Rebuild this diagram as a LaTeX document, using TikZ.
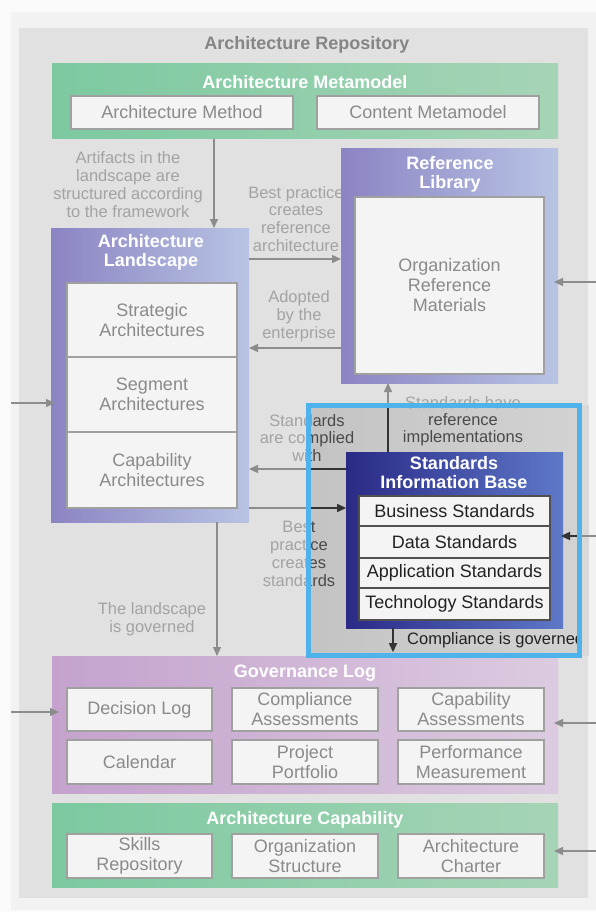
\documentclass[tikz,border=0pt]{standalone}
\usepackage{fontspec}
\setmainfont{Liberation Sans}
\usetikzlibrary{arrows.meta}
\definecolor{pagebg}{HTML}{F2F2F2}
\definecolor{repo}{HTML}{E1E1E1}
\definecolor{repotitle}{HTML}{858585}
\definecolor{lblgray}{HTML}{A3A3A3}
\definecolor{lbldark}{HTML}{4A4A4A}
\definecolor{itemfill}{HTML}{F4F4F4}
\definecolor{itemborder}{HTML}{A0A0A0}
\definecolor{itemtext}{HTML}{8A8A8A}
\definecolor{greenL}{HTML}{7CC9A0}
\definecolor{greenR}{HTML}{A6D4B6}
\definecolor{purpL}{HTML}{8B84C3}
\definecolor{purpR}{HTML}{B8C4E4}
\definecolor{lilacL}{HTML}{C4A2CD}
\definecolor{lilacR}{HTML}{DCCBE0}
\definecolor{sibL}{HTML}{2A2A86}
\definecolor{sibR}{HTML}{5E78C8}
\definecolor{sibborder}{HTML}{505050}
\definecolor{sibtext}{HTML}{222222}
\definecolor{hlblue}{HTML}{4DB3EA}
\definecolor{panelL}{HTML}{C3C3C3}
\definecolor{panelR}{HTML}{D3D3D3}
\definecolor{sidepanel}{HTML}{D9D9D9}
\definecolor{arrgray}{HTML}{8C8C8C}
\definecolor{arrdark}{HTML}{333333}
\newcommand\bx[7]{\node[#6, minimum width={#4pt-#2pt}, minimum height={#5pt-#3pt}] (#1) at ({(#2+#4)/2},{(#3+#5)/2}) {#7};}
\newcommand\framelabels[2]{%
  \node[lbl, text=#1, font=\fontsize{16.5}{17}\selectfont] (lhave#2) at (463,421) {Standards have\\reference\\implementations};
  \node[lbl, text=#1] (lcomp#2) at (307,438) {Standards\\are complied\\with};
  \node[lbl, text=#1] (lbps#2) at (299,554) {Best\\practice\\creates\\standards};
}
\newcommand\framearrows[1]{%
  \draw[arr, draw=#1, -{Triangle[length=9pt,width=8pt,fill=#1]}] (sib.north -| x388) -- (ref.south -| x388);
  \draw[arr, draw=#1, -{Triangle[length=9pt,width=8pt,fill=#1]}] (sib.west |- y469) -- (land.east |- y469);
  \draw[arr, draw=#1, -{Triangle[length=9pt,width=8pt,fill=#1]}] (land.east |- y508) -- (sib.west |- y508);
  \draw[arr, draw=#1, -{Triangle[length=9pt,width=8pt,fill=#1]}, shorten >=-2pt] (exSIB) -- (sib.east |- exSIB);
  \draw[arr, draw=#1, -{Triangle[length=9pt,width=8pt,fill=#1]}] (sib.south -| x393) -- (cgEnd);
}
\begin{document}
\begin{tikzpicture}[x=1pt,y=-1pt,
  lbl/.style={align=center, text=lblgray, font=\fontsize{16.5}{17.8}\selectfont, inner sep=0},
  ttl/.style={align=center, text=white, font=\bfseries\fontsize{18}{19}\selectfont, inner sep=0},
  item/.style={draw=itemborder, line width=1.2pt, fill=itemfill, text=itemtext, align=center, font=\fontsize{18}{20}\selectfont, inner sep=0},
  sitem/.style={item, draw=sibborder, line width=1.4pt, text=sibtext},
  panelbox/.style={inner sep=0, outer sep=0},
  arr/.style={draw=arrgray, line width=1.4pt, -{Triangle[length=9pt,width=8pt]}},
]
\useasboundingbox (0,0) rectangle (596,912);
\fill[white!98!black] (0,0) rectangle (596,912);
\fill[pagebg] (11,12) rectangle (596,910);
\fill[repo] (19,28) rectangle (588,898);
\fill[sidepanel] (579.5,405) rectangle (589,655.5);

% coordinates
\coordinate (x214) at (214,0);
\coordinate (x217) at (217,0);
\coordinate (x388) at (388,0);
\coordinate (x393) at (393,0);
\coordinate (y259) at (0,259);
\coordinate (y348) at (0,348);
\coordinate (y469) at (0,469);
\coordinate (y508) at (0,508);
\coordinate (cgEnd) at (393,652);
\coordinate (inLand) at (11,403);
\coordinate (exRef) at (596,282);
\coordinate (exSIB) at (596,536);
\coordinate (exGovL) at (11,712);
\coordinate (exGovR) at (596,723);
\coordinate (exCap) at (596,851);

% title
\node[font=\bfseries\fontsize{18}{19}\selectfont, text=repotitle, inner sep=0] (repoT) at (307,45) {Architecture Repository};

% light labels
\node[lbl] (lart) at (128,184.5) {Artifacts in the\\landscape are\\structured according\\to the framework};
\node[lbl] (lbpr) at (296,219) {Best practice\\creates\\reference\\architecture};
\node[lbl] (ladopt) at (299,316) {Adopted\\by the\\enterprise};
\node[lbl] (lgov) at (152,619) {The landscape\\is governed};
\framelabels{lblgray}{A}

% Architecture Metamodel
\bx{mm}{52}{64}{558}{139}{panelbox, left color=greenL, right color=greenR}{}
\node[ttl] (mmT) at (305,82) {Architecture Metamodel};
\bx{am}{71}{96}{293}{129}{item}{Architecture Method}
\bx{cm}{317}{96}{539}{129}{item}{Content Metamodel}

% Reference Library
\bx{ref}{341}{149}{558}{383}{panelbox, left color=purpL, right color=purpR}{}
\node[ttl] (refT) at (450,174) {Reference\\Library};
\bx{orm}{355}{197}{544}{374}{item}{Organization\\Reference\\Materials}

% Architecture Landscape
\bx{land}{51}{228}{249}{522}{panelbox, left color=purpL, right color=purpR}{}
\node[ttl] (landT) at (151,252) {Architecture\\Landscape};
\bx{strat}{67}{283}{237}{357}{item}{Strategic\\Architectures}
\bx{seg}{67}{357}{237}{432}{item}{Segment\\Architectures}
\bx{capa}{67}{432}{237}{508}{item}{Capability\\Architectures}

% Governance Log
\bx{gov}{52}{656}{558}{793}{panelbox, left color=lilacL, right color=lilacR}{}
\node[ttl] (govT) at (305,673) {Governance Log};
\bx{dec}{67}{688}{212}{731}{item}{Decision Log}
\bx{cpa}{232}{688}{378}{731}{item}{Compliance\\Assessments}
\bx{caa}{398}{688}{544}{731}{item}{Capability\\Assessments}
\bx{cal}{67}{740}{212}{784}{item}{Calendar}
\bx{ppf}{232}{740}{378}{784}{item}{Project\\Portfolio}
\bx{pm}{398}{740}{544}{784}{item}{Performance\\Measurement}

% Architecture Capability
\bx{cap}{52}{803}{558}{887}{panelbox, left color=greenL, right color=greenR}{}
\node[ttl] (capT) at (305,820) {Architecture Capability};
\bx{skr}{67}{834}{212}{878}{item}{Skills\\Repository}
\bx{ors}{232}{834}{378}{878}{item}{Organization\\Structure}
\bx{ach}{398}{834}{544}{878}{item}{Architecture\\Charter}

% highlighted panel (inside the blue frame)
\begin{scope}
  \clip (308,405) rectangle (579.5,655.5);
  \fill[left color=panelL, right color=panelR] (300,400) rectangle (590,660);
  \framelabels{lbldark}{B}
  \node[lbl, text=sibtext, anchor=west] (lcg) at (407,640) {Compliance is governed};
\end{scope}

% Standards Information Base
\bx{sib}{346}{452}{563}{628}{panelbox, left color=sibL, right color=sibR}{}
\node[ttl] (sibT) at (454,473) {Standards\\Information Base};
\bx{bus}{359}{496}{550}{526}{sitem}{Business Standards}
\bx{dat}{359}{526}{550}{558}{sitem}{Data Standards}
\bx{app}{359}{558}{550}{588}{sitem}{Application Standards}
\bx{tec}{359}{588}{550}{620}{sitem}{Technology Standards}

% arrows
\draw[arr] (mm.south -| x214) -- (land.north -| x214);
\draw[arr] (land.east |- y259) -- (ref.west |- y259);
\draw[arr] (ref.west |- y348) -- (land.east |- y348);
\draw[arr] (land.south -| x217) -- (gov.north -| x217);
\draw[arr, shorten >=-4pt] (inLand) -- (land.west |- inLand);
\draw[arr, shorten >=-4pt] (exRef) -- (ref.east |- exRef);
\draw[arr, shorten >=-7pt] (exGovL) -- (gov.west |- exGovL);
\draw[arr, shorten >=-4pt] (exGovR) -- (gov.east |- exGovR);
\draw[arr, shorten >=-4pt] (exCap) -- (cap.east |- exCap);
\framearrows{arrgray}
\begin{scope}
  \clip (308,405) rectangle (579.5,655.5);
  \framearrows{arrdark}
\end{scope}

% blue highlight frame
\draw[hlblue, line width=5pt] (308,405) rectangle (579.5,655.5);
\end{tikzpicture}
\end{document}
